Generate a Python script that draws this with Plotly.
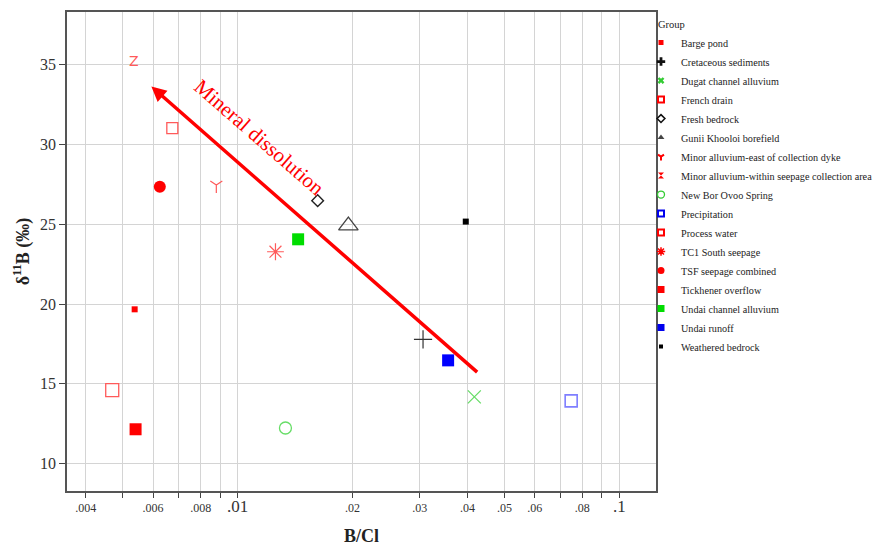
import numpy as np
import plotly.graph_objects as go

# ---- data ----
groups = ["Barge pond", "Cretaceous sediments", "Dugat channel alluvium", "French drain",
          "Fresh bedrock", "Gunii Khooloi borefield", "Minor alluvium-east of collection dyke",
          "Minor alluvium-within seepage collection area", "New Bor Ovoo Spring", "Precipitation",
          "Process water", "TC1 South seepage", "TSF seepage combined", "Tickhener overflow",
          "Undai channel alluvium", "Undai runoff", "Weathered bedrock"]
b_cl = [0.00537, 0.0306, 0.0417, 0.00674, 0.0162, 0.0195, 0.00879, 0.00534, 0.01334, 0.0748,
        0.00469, 0.01256, 0.00625, 0.0054, 0.0144, 0.0356, 0.0396]
d11b = [19.67, 17.78, 14.18, 31.03, 26.48, 24.92, 27.47, 35.15, 12.23, 13.93,
        14.6, 23.28, 27.36, 12.15, 24.06, 16.47, 25.17]

x_tickvals = [0.004, 0.005, 0.006, 0.007, 0.008, 0.009, 0.01, 0.02, 0.03, 0.04, 0.05,
              0.06, 0.07, 0.08, 0.09, 0.1]
x_ticktext = [".004", "", ".006", "", ".008", "", "<span style='font-size:17px'>.01</span>",
              ".02", ".03", ".04", ".05", ".06", "", ".08", "",
              "<span style='font-size:17px'>.1</span>"]
y_tickvals = [10, 15, 20, 25, 30, 35]

arrow_tail = (0.0428, 15.65)
arrow_tip = (0.00594, 33.64)
label_pos = (0.01135, 30.45)
label_text = "Mineral dissolution"

# ---- styles ----
RED = "#ff0000"
LRED = "#ff5a5a"
styles = {
    "Barge pond": dict(symbol="square", color=RED, size=6, lw=0),
    "Cretaceous sediments": dict(symbol="cross-thin-open", color="#333333", size=13, lw=1.2),
    "Dugat channel alluvium": dict(symbol="x-thin-open", color="#66dd66", size=13, lw=1.2),
    "French drain": dict(symbol="square-open", color=LRED, size=11, lw=1.3),
    "Fresh bedrock": dict(symbol="diamond-open", color="#222222", size=9, lw=1.4),
    "Gunii Khooloi borefield": dict(symbol="triangle-up-open", color="#444444", size=17, lw=1.3),
    "Minor alluvium-east of collection dyke": dict(symbol="y-down-open", color=LRED, size=10, lw=1.2),
    "Minor alluvium-within seepage collection area": None,
    "New Bor Ovoo Spring": dict(symbol="circle-open", color="#66dd66", size=12, lw=1.3),
    "Precipitation": dict(symbol="square-open", color="#7f7fff", size=12, lw=1.6),
    "Process water": dict(symbol="square-open", color=LRED, size=13, lw=1.3),
    "TC1 South seepage": dict(symbol="asterisk-open", color=LRED, size=14, lw=1.2),
    "TSF seepage combined": dict(symbol="circle", color=RED, size=12, lw=0),
    "Tickhener overflow": dict(symbol="square", color=RED, size=12, lw=0),
    "Undai channel alluvium": dict(symbol="square", color="#00dd00", size=12, lw=0),
    "Undai runoff": dict(symbol="square", color="#0000ff", size=12, lw=0),
    "Weathered bedrock": dict(symbol="square", color="#000000", size=6, lw=0),
}
legend_styles = {
    "Barge pond": ("square", RED, 5, 0),
    "Cretaceous sediments": ("cross", "#111111", 7, 0),
    "Dugat channel alluvium": ("x", "#33cc33", 6, 0),
    "French drain": ("square-open", RED, 6, 2),
    "Fresh bedrock": ("diamond-open", "#111111", 6, 1.6),
    "Gunii Khooloi borefield": ("triangle-up", "#444444", 6, 0),
    "Minor alluvium-east of collection dyke": ("y-down-open", RED, 5, 2),
    "Minor alluvium-within seepage collection area": ("hourglass", RED, 6, 0),
    "New Bor Ovoo Spring": ("circle-open", "#33cc33", 7, 1.3),
    "Precipitation": ("square-open", "#0000ee", 6, 2),
    "Process water": ("square-open", RED, 6, 2),
    "TC1 South seepage": ("asterisk-open", RED, 7, 1.5),
    "TSF seepage combined": ("circle", RED, 7, 0),
    "Tickhener overflow": ("square", RED, 7, 0),
    "Undai channel alluvium": ("square", "#00dd00", 7, 0),
    "Undai runoff": ("square", "#0000ee", 7, 0),
    "Weathered bedrock": ("square", "#000000", 4, 0),
}

SERIF = "Liberation Serif"
fig = go.Figure()

for g, xv, yv in zip(groups, b_cl, d11b):
    st = styles[g]
    if st is None:
        fig.add_trace(go.Scatter(x=[xv], y=[yv], mode="text", text=["Z"],
                                 textposition="middle center",
                                 textfont=dict(family="DejaVu Sans", size=14, color=LRED),
                                 showlegend=False, legendgroup=g, name=g))
    else:
        fig.add_trace(go.Scatter(x=[xv], y=[yv], mode="markers", name=g, legendgroup=g,
                                 showlegend=False,
                                 marker=dict(symbol=st["symbol"], color=st["color"], size=st["size"],
                                             line=dict(width=st["lw"], color=st["color"]))))

# legend proxies (small symbols like the reference legend)
for g in groups:
    sym, col, sz, lw = legend_styles[g]
    fig.add_trace(go.Scatter(x=[None], y=[None], mode="markers", name=g, legendgroup=g,
                             showlegend=True,
                             marker=dict(symbol=sym, color=col, size=sz,
                                         line=dict(width=lw, color=col))))

fig.add_annotation(x=np.log10(arrow_tip[0]), y=arrow_tip[1], xref="x", yref="y",
                   ax=np.log10(arrow_tail[0]), ay=arrow_tail[1], axref="x", ayref="y",
                   text="", showarrow=True, arrowhead=2, arrowsize=0.85, arrowwidth=3.5,
                   arrowcolor=RED, standoff=0, startstandoff=0)
fig.add_annotation(x=np.log10(label_pos[0]), y=label_pos[1], xref="x", yref="y",
                   text=label_text, showarrow=False, textangle=41,
                   font=dict(family=SERIF, size=21, color=RED))

fig.update_layout(
    width=873, height=547,
    margin=dict(l=67, r=217, t=12, b=56, autoexpand=False),
    paper_bgcolor="white", plot_bgcolor="white",
    font=dict(family=SERIF, color="#222222"),
    legend=dict(x=1.0, y=0.995, xanchor="left", yanchor="top", indentation=-15,
                title=dict(text="Group", font=dict(family=SERIF, size=10.5, color="#222222")),
                font=dict(family=SERIF, size=10.2, color="#222222"),
                bgcolor="rgba(255,255,255,0)", itemsizing="trace", tracegroupgap=0),
)
fig.update_xaxes(type="log", range=[np.log10(0.00357), np.log10(0.1248)],
                 tickvals=x_tickvals, ticktext=x_ticktext,
                 tickfont=dict(family=SERIF, size=12, color="#333333"),
                 showgrid=True, gridcolor="#d4d4d4", gridwidth=1,
                 ticks="outside", ticklen=5, tickcolor="#444444",
                 showline=True, linecolor="#555555", linewidth=1.5, mirror=True, zeroline=False,
                 title=dict(text="<b>B/Cl</b>", font=dict(family=SERIF, size=18, color="#222222"),
                            standoff=14))
fig.update_yaxes(range=[8.28, 38.31], tickvals=y_tickvals,
                 tickfont=dict(family=SERIF, size=16, color="#333333"),
                 showgrid=True, gridcolor="#d4d4d4", gridwidth=1,
                 ticks="outside", ticklen=6, tickcolor="#444444",
                 showline=True, linecolor="#555555", linewidth=1.5, mirror=True, zeroline=False,
                 title=dict(text="<b>δ<sup>11</sup>B (‰)</b>",
                            font=dict(family=SERIF, size=18, color="#222222"), standoff=6))

fig.write_html("out.html")
